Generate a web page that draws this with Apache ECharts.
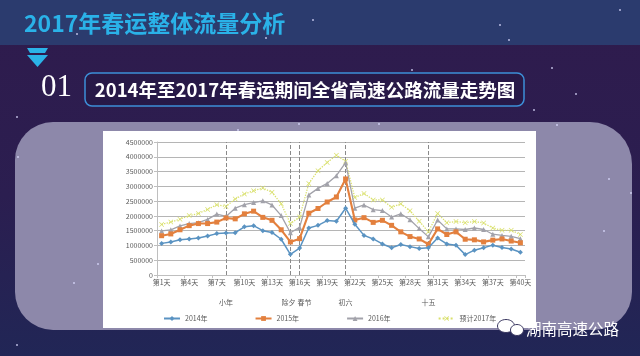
<!DOCTYPE html>
<html><head><meta charset="utf-8">
<script src="https://cdn.jsdelivr.net/npm/echarts@6/dist/echarts.min.js"></script>
<style>html,body{margin:0;padding:0;background:#2d1c4e}#c{width:640px;height:356px}</style>
</head><body><div id="c"></div>
<script>
const days = ['第1天','第2天','第3天','第4天','第5天','第6天','第7天','第8天','第9天','第10天',
  '第11天','第12天','第13天','第14天','第15天','第16天','第17天','第18天','第19天','第20天',
  '第21天','第22天','第23天','第24天','第25天','第26天','第27天','第28天','第29天','第30天',
  '第31天','第32天','第33天','第34天','第35天','第36天','第37天','第38天','第39天','第40天'];
const seriesNames = ['2014年','2015年','2016年','预计2017年'];
const v2014 = [1070000,1120000,1190000,1220000,1250000,1320000,1400000,1420000,1430000,1630000,
  1670000,1500000,1440000,1210000,700000,910000,1590000,1680000,1840000,1820000,
  2260000,1720000,1340000,1220000,1050000,920000,1030000,960000,900000,920000,
  1250000,1050000,1010000,690000,840000,920000,1010000,930000,880000,770000];
const v2015 = [1330000,1390000,1530000,1670000,1740000,1740000,1790000,1930000,1900000,2070000,
  2160000,1950000,1850000,1530000,1120000,1230000,2090000,2250000,2470000,2640000,
  3250000,1860000,1940000,1780000,1850000,1680000,1460000,1300000,1220000,1040000,
  1560000,1370000,1460000,1210000,1190000,1120000,1180000,1220000,1150000,1090000];
const v2016 = [1490000,1530000,1660000,1740000,1770000,1880000,2060000,1980000,2260000,2380000,
  2450000,2510000,2370000,2010000,1430000,1610000,2710000,2930000,3100000,3360000,
  3800000,2260000,2370000,2210000,2180000,1960000,2070000,1870000,1570000,1290000,
  1860000,1560000,1560000,1540000,1590000,1540000,1380000,1340000,1310000,1230000];
const v2017 = [1710000,1790000,1890000,2010000,2080000,2220000,2380000,2320000,2570000,2740000,
  2850000,2940000,2800000,2410000,1740000,1960000,3100000,3530000,3810000,4050000,
  3850000,2620000,2760000,2540000,2540000,2290000,2410000,2170000,1820000,1460000,
  2080000,1770000,1810000,1770000,1810000,1760000,1590000,1510000,1510000,1370000];
const yTicks = {min: 0, max: 4500000, interval: 500000};
const events = [['第8天','小年'],['第15天','除夕'],['第16天','春节'],['第21天','初六'],['第30天','十五']];
const headerTitle = '2017年春运整体流量分析';
const sectionNo = '01';
const boxTitle = '2014年至2017年春运期间全省高速公路流量走势图';
const watermark = '湖南高速公路';

const FONT = '"Noto Sans CJK SC", "Noto Sans", sans-serif';
const chart = echarts.init(document.getElementById('c'), null, {renderer: 'canvas'});

const stars = [[77,34],[500,25],[509,40],[266,38],[313,20],[412,70],[552,68],[576,94],[534,110],
  [557,125],[17,117],[18,157],[98,264],[74,283],[238,130],[299,124],[379,124],[609,179],[631,193],[604,231],[17,345],[620,10]];

const graphics = [
  {type:'rect', z:-20, shape:{x:0,y:0,width:640,height:356},
   style:{fill:new echarts.graphic.LinearGradient(0,0,0,1,[{offset:0,color:'#2f1b4d'},{offset:0.55,color:'#2b1e50'},{offset:1,color:'#212656'}])}},
  {type:'rect', z:-19, shape:{x:0,y:0,width:640,height:45}, style:{fill:'#2b3b6e'}},
  {type:'text', z:-5, style:{text:headerTitle, x:24, y:23, fill:'#2ab2e8', font:'bold 23px ' + FONT, textVerticalAlign:'middle'}},
  {type:'polygon', z:-5, shape:{points:[[27,48],[48,48],[45,53],[30,53]]}, style:{fill:'#2bb3e8'}},
  {type:'polygon', z:-5, shape:{points:[[27,55],[48,55],[37.5,67]]}, style:{fill:'#2bb3e8'}},
  {type:'text', z:-5, style:{text:sectionNo, x:41, y:88, fill:'#ffffff', font:'31px "Liberation Serif", "DejaVu Serif", serif', textVerticalAlign:'middle'}},
  {type:'rect', z:-5, shape:{x:85,y:73,width:439,height:33,r:7}, style:{fill:'rgba(30,20,60,0.35)', stroke:'#3d8fd8', lineWidth:1.5}},
  {type:'text', z:-4, style:{text:boxTitle, x:305, y:90, fill:'#ffffff', font:'bold 18.5px ' + FONT, textAlign:'center', textVerticalAlign:'middle'}},
  {type:'rect', z:-15, shape:{x:15,y:122,width:617,height:208,r:[38,42,38,38]}, style:{fill:'#8d88aa'}},
  {type:'rect', z:-14, shape:{x:103,y:131,width:433,height:197}, style:{fill:'#ffffff'}},
  {type:'ellipse', z:-3, shape:{cx:506,cy:326,rx:8.5,ry:6.5}, style:{fill:'#ffffff', stroke:'#3a3760', lineWidth:1}},
  {type:'ellipse', z:-2, shape:{cx:517,cy:330,rx:6.5,ry:5.5}, style:{fill:'#ffffff', stroke:'#3a3760', lineWidth:1}},
  {type:'text', z:-2, style:{text:watermark, x:526, y:329, fill:'#ffffff', font:'15.5px ' + FONT, textVerticalAlign:'middle'}}
];
stars.forEach(p => graphics.push({type:'circle', z:-13, shape:{cx:p[0],cy:p[1],r:1}, style:{fill:'rgba(220,220,255,0.8)'}}));

const xPath = 'path://M0,1L1,0L5,4L9,0L10,1L6,5L10,9L9,10L5,6L1,10L0,9L4,5Z';
const colors = ['#5a93c2','#e3803e','#a2a2aa','#d9e06c'];
const symbols = ['diamond','rect','triangle', xPath];
const sizes = [5,5,5,5];
const widths = [1.5,2.1,1.3,1.3];
const datas = [v2014,v2015,v2016,v2017];

const series = datas.map((d,i) => ({
  name: seriesNames[i], type:'line', data:d, symbol:symbols[i], symbolSize:sizes[i],
  itemStyle:{color:colors[i]}, lineStyle:{color:colors[i], width:widths[i], type: i===3 ? 'dotted':'solid'},
  z: 10 - i
}));
series[0].markLine = {
  silent:true, symbol:['none','none'], animation:false,
  lineStyle:{type:'dashed', color:'#8a8a8a', width:1},
  label:{show:true, position:'start', formatter:'{b}', color:'#595959', fontSize:7, fontFamily:FONT, distance:24},
  data: events.map((e,k) => ({xAxis:e[0], name:e[1],
    label: k===1 ? {offset:[-2,0]} : (k===2 ? {offset:[5,0]} : {})}))
};

chart.setOption({
  animation:false,
  textStyle:{fontFamily:FONT},
  graphic: graphics,
  grid:{left:157, right:115, top:142, bottom:81, containLabel:false},
  legend:{data:seriesNames, left:158, top:310, itemGap:47, itemWidth:16, itemHeight:6,
    textStyle:{fontSize:7, color:'#595959', fontFamily:FONT}},
  xAxis:{type:'category', data:days, boundaryGap:true,
    axisLine:{lineStyle:{color:'#bfbfbf'}},
    axisTick:{show:true, interval:2, length:3, lineStyle:{color:'#bfbfbf'}},
    axisLabel:{interval:2, color:'#595959', fontSize:7, margin:4, fontFamily:FONT},
    splitLine:{show:false}},
  yAxis:{type:'value', min:yTicks.min, max:yTicks.max, interval:yTicks.interval,
    axisLine:{show:true, lineStyle:{color:'#bfbfbf'}},
    axisTick:{show:true, length:3, lineStyle:{color:'#bfbfbf'}},
    axisLabel:{color:'#595959', fontSize:7, margin:4, fontFamily:FONT, formatter:v => String(v)},
    splitLine:{lineStyle:{color:'#b5b5b5', width:1}}},
  series: series
});
</script></body></html>
